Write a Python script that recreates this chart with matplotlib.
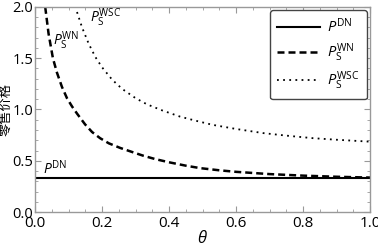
import matplotlib.pyplot as plt
from matplotlib.ticker import MultipleLocator

# P^DN is flat
theta_dn = [0.0, 1.0]
p_dn = [0.333, 0.333]

# P_S^WN (dashed)
theta_wn = [0.030, 0.040, 0.053, 0.065, 0.080, 0.095, 0.110, 0.125, 0.149, 0.170,
            0.194, 0.220, 0.254, 0.290, 0.322, 0.360, 0.403, 0.450, 0.493, 0.550,
            0.600, 0.700, 0.800, 0.900, 1.000]
p_wn = [2.00, 1.74, 1.50, 1.36, 1.22, 1.11, 1.03, 0.96, 0.855, 0.78,
        0.72, 0.67, 0.625, 0.585, 0.55, 0.515, 0.483, 0.452, 0.428, 0.407,
        0.392, 0.37, 0.355, 0.344, 0.336]

# P_S^WSC (dotted)
theta_wsc = [0.125, 0.140, 0.160, 0.180, 0.200, 0.230, 0.260, 0.300, 0.334, 0.380,
             0.433, 0.480, 0.530, 0.600, 0.680, 0.750, 0.830, 0.900, 1.000]
p_wsc = [1.95, 1.80, 1.64, 1.51, 1.41, 1.29, 1.20, 1.11, 1.05, 0.99,
         0.93, 0.89, 0.85, 0.81, 0.77, 0.745, 0.72, 0.705, 0.686]

plt.rcParams['font.family'] = ['Open Sans', 'DejaVu Sans']
plt.rcParams['mathtext.fontset'] = 'custom'
plt.rcParams['mathtext.rm'] = 'Open Sans'
plt.rcParams['mathtext.it'] = 'Open Sans:italic'

fig = plt.figure(figsize=(3.78, 2.46), dpi=100)
ax = fig.add_axes([0.093, 0.138, 0.886, 0.834])

ax.plot(theta_dn, p_dn, color='black', lw=1.5, label=r'$P^{\rm DN}$')
ax.plot(theta_wn, p_wn, color='black', lw=1.8, linestyle=(0, (2.8, 1.6)),
        label=r'$P_{\rm S}^{\rm WN}$')
ax.plot(theta_wsc, p_wsc, color='black', lw=1.3, linestyle=(0, (1, 2.4)),
        label=r'$P_{\rm S}^{\rm WSC}$')

ax.set_xlim(0, 1)
ax.set_ylim(0, 2)
ax.xaxis.set_major_locator(MultipleLocator(0.2))
ax.xaxis.set_minor_locator(MultipleLocator(0.05))
ax.yaxis.set_major_locator(MultipleLocator(0.5))
ax.yaxis.set_minor_locator(MultipleLocator(0.1))
ax.xaxis.set_major_formatter(lambda v, p: f'{v:.1f}')
ax.yaxis.set_major_formatter(lambda v, p: f'{v:.1f}')

ax.tick_params(which='both', direction='in', top=True, right=True,
               color='#999999', labelsize=11)
ax.tick_params(axis='x', pad=3)
ax.tick_params(axis='y', pad=1.5, labelsize=10.5)
ax.tick_params(which='major', length=4, width=0.8)
ax.tick_params(which='minor', length=2, width=0.6)
for s in ax.spines.values():
    s.set_color('#999999')
    s.set_linewidth(1.0)

ax.set_xlabel(r'$\theta$', fontsize=12, family='DejaVu Serif', labelpad=-1)
fig.text(0.016, 0.553, '零售价格', fontsize=9.5, rotation=90, va='center', ha='center',
         family=['Noto Sans CJK SC', 'DejaVu Sans'])

ax.text(0.022, 0.37, r'$P^{\rm DN}$', fontsize=10)
ax.text(0.054, 1.63, r'$P_{\rm S}^{\rm WN}$', fontsize=10)
ax.text(0.164, 1.855, r'$P_{\rm S}^{\rm WSC}$', fontsize=10)

leg = ax.legend(loc='upper right', bbox_to_anchor=(0.99, 0.985), fontsize=10.5,
                handlelength=2.9, handletextpad=0.5, labelspacing=0.38,
                borderpad=0.5, borderaxespad=0, fancybox=True,
                edgecolor='#444444', framealpha=1)
leg.get_frame().set_linewidth(1.0)

fig.savefig('out.png', dpi=100)
